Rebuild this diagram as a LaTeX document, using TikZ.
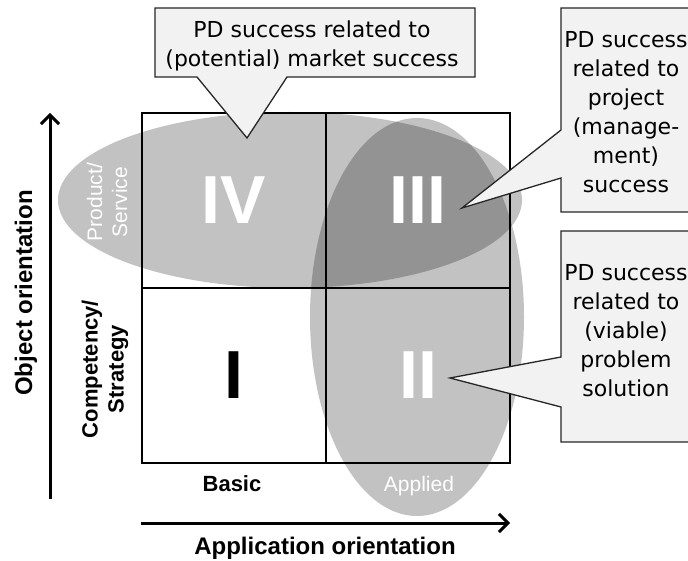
\documentclass[tikz,border=0pt]{standalone}
\usepackage{fontspec}
\setmainfont{Liberation Sans}
\newfontfamily\callfont{DejaVu Sans}
\usetikzlibrary{arrows.meta}

\begin{document}
\begin{tikzpicture}[x=1pt,y=-1pt,
  cell/.style={draw=black, line width=1.5pt, minimum width=184pt, minimum height=175pt, inner sep=0pt},
  zone/.style={fill=black, fill opacity=0.24},
  numeral/.style={font=\bfseries\fontsize{68}{70}\selectfont, text=white, inner sep=0pt},
  zonelabel/.style={font=\fontsize{21}{25}\selectfont, text=white, align=center, inner sep=0pt},
  axislabel/.style={font=\bfseries\fontsize{24}{28}\selectfont, inner sep=0pt},
  sidelabel/.style={font=\bfseries\fontsize{22}{26}\selectfont, align=center, inner sep=0pt},
  callbox/.style={fill=black!5, draw=black!85, line width=1.3pt, line join=miter},
  calltext/.style={font=\callfont\fontsize{22}{29}\selectfont, align=center, inner sep=0pt},
  axis/.style={line width=3pt, -{Straight Barb[length=9pt,width=18pt,line width=3pt]}}
]
\useasboundingbox[fill=white] (0,0) rectangle (688,561);

% shaded zones: product/service (horizontal) and applied (vertical)
\fill[zone] (290,200) ellipse [x radius=232, y radius=88];
\fill[zone] (417,317) ellipse [x radius=107, y radius=199];

% the four quadrants
\node[cell] (q4) at (234,200.5) {};
\node[cell] (q3) at (418,200.5) {};
\node[cell] (q1) at (234,375.5) {};
\node[cell] (q2) at (418,375.5) {};

\node[numeral] (n4) at (q4) {IV};
\node[numeral] (n3) at (q3) {III};
\node[numeral] (n2) at (q2) {II};
\node[numeral, text=black] (n1) at (q1) {I};

% zone and axis labels
\node[zonelabel, rotate=90] (prod) at (107,202) {Product/\\Service};
\node[zonelabel, anchor=base] (appl) at (419,491) {Applied};
\node[sidelabel] (basic) at (232,484) {Basic};
\node[sidelabel, rotate=90] (comp) at (105,369) {Competency/\\Strategy};
\node[axislabel, rotate=90] (objo) at (26,293) {Object orientation};
\node[axislabel] (appo) at (325,548) {Application orientation};

% axes
\coordinate (yfrom) at (50,499);
\coordinate (yto) at (50,113);
\coordinate (xfrom) at (141,523);
\coordinate (xto) at (510,523);
\draw[axis] (yfrom) -- (yto);
\draw[axis] (xfrom) -- (xto);

% callouts
\coordinate (p1) at (247,138);
\coordinate (p2) at (462,208);
\coordinate (p3) at (450,378);
\draw[callbox] (155,8) -- (475,8) -- (475,77) -- (287,77) -- (p1) -- (197,77) -- (155,77) -- cycle;
\draw[callbox] (561,8) -- (691,8) -- (691,212) -- (561,212) -- (561,178) -- (p2) -- (561,130) -- cycle;
\draw[callbox] (561,231) -- (691,231) -- (691,442) -- (561,442) -- (561,407) -- (p3) -- (561,357) -- cycle;

\node[calltext] (c1) at (312,46) {PD success related to\\(potential) market success};
\node[calltext] (c2) at (626,112) {PD success\\related to\\project\\(manage-\\ment)\\success};
\node[calltext] (c3) at (626,331) {PD success\\related to\\(viable)\\problem\\solution};
\end{tikzpicture}
\end{document}
